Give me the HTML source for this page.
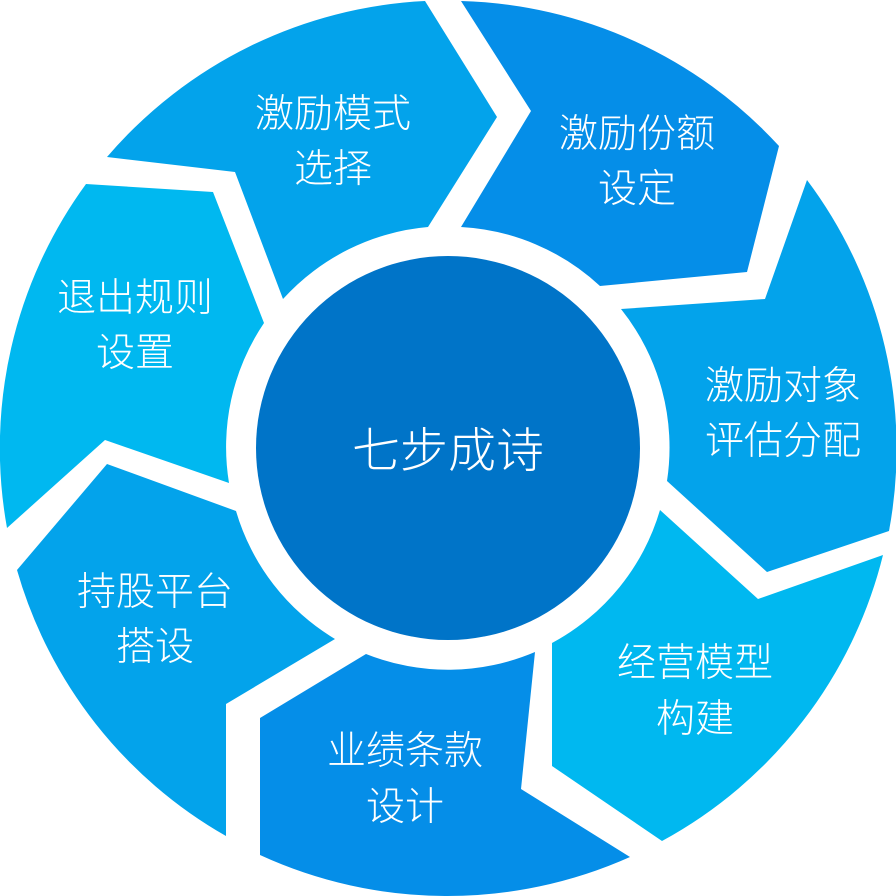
<!DOCTYPE html>
<html><head><meta charset="utf-8"><style>
html,body{margin:0;padding:0;background:#fff;}
svg{display:block;}
text{font-family:"Liberation Sans","Noto Sans CJK SC",sans-serif;fill:#fff;text-anchor:middle;font-weight:300;}
</style></head><body>
<svg width="896" height="896" viewBox="0 0 896 896" xmlns="http://www.w3.org/2000/svg">
<path fill="#03a3eb" d="M107,157 A448,448 0 0 1 425,1 L497,117 L428,227 A222,222 0 0 0 283,299 L235,172 Z"/>
<path fill="#058ee8" d="M461,1 A448,448 0 0 1 779,146 L747,272 L600,286 A222,222 0 0 0 461,227 L531,111 Z"/>
<path fill="#03a3eb" d="M807,180 A448,448 0 0 1 889,531 L767,572 L667,481 A222,222 0 0 0 621,309 L765,299 Z"/>
<path fill="#00b8f0" d="M883,555 A448,448 0 0 1 662,841 L552,766 L552,643 A222,222 0 0 0 660,510 L758,599 Z"/>
<path fill="#058ee8" d="M630,857 A448,448 0 0 1 260,855 L260,718 L366,654 A222,222 0 0 0 535,652 L521,789 Z"/>
<path fill="#03a3eb" d="M226,836 A448,448 0 0 1 17,570 L107,464 L236,511 A222,222 0 0 0 335,639 L226,704 Z"/>
<path fill="#00b8f0" d="M7,528 A448,448 0 0 1 86,184 L213,192 L264,323 A222,222 0 0 0 229,483 L105,440 Z"/>
<circle cx="448" cy="448" r="192" fill="#0074c8"/>
<g font-size="39">
<text x="333" y="127">激励模式</text><text x="333" y="182">选择</text>
<text x="637" y="147">激励份额</text><text x="637" y="202">设定</text>
<text x="783" y="399">激励对象</text><text x="783" y="454">评估分配</text>
<text x="695" y="676">经营模型</text><text x="695" y="732">构建</text>
<text x="405" y="764">业绩条款</text><text x="405" y="820">设计</text>
<text x="155" y="605">持股平台</text><text x="155" y="660">搭设</text>
<text x="135" y="311">退出规则</text><text x="135" y="366">设置</text>
</g>
<text x="448" y="467" font-size="48">七步成诗</text>
</svg>
</body></html>
